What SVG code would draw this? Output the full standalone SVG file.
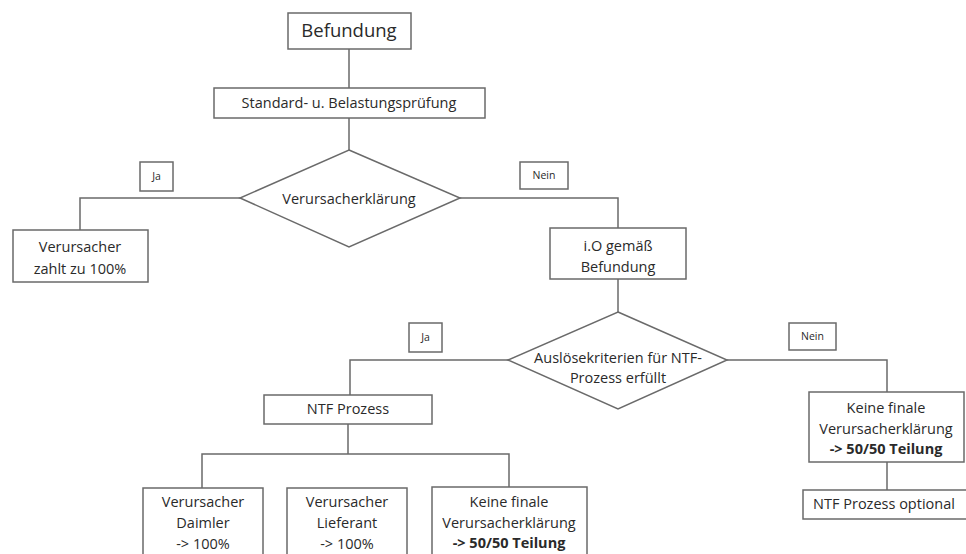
<svg xmlns="http://www.w3.org/2000/svg" width="966" height="554" viewBox="0 0 966 554">
<style>
.b{fill:#fff;stroke:#6a6a6a;stroke-width:1.5}
.c{fill:none;stroke:#6a6a6a;stroke-width:1.5}
text{font-family:"Open Sans","Liberation Sans",sans-serif;fill:#2a2a2a;text-anchor:middle;font-size:14.5px}
.s{font-size:10.5px}
.k{font-weight:bold}
</style>
<rect width="966" height="554" fill="#fff"/>
<g id="connectors">
<path class="c" d="M349,49V88M349,118V150"/>
<path class="c" d="M240,198H80V230"/>
<path class="c" d="M460,198H618V228"/>
<path class="c" d="M618,279V312"/>
<path class="c" d="M508,360H350V395"/>
<path class="c" d="M727,360H887V392"/>
<path class="c" d="M887,462V490"/>
<path class="c" d="M348,424V454M202,488V454H509V488"/>
</g>
<g id="befundung"><rect class="b" x="288" y="13" width="123" height="36"/><text x="349" y="37" style="font-size:18.5px">Befundung</text></g>
<g id="standard"><rect class="b" x="214" y="88" width="271" height="30"/><text x="349" y="108" style="font-size:14.5px">Standard- u. Belastungsprüfung</text></g>
<g id="verursacherklaerung"><polygon class="b" points="349,150 460,198 349,247 240,198"/><text x="349" y="204">Verursacherklärung</text></g>
<g id="label-ja1"><rect class="b" x="140" y="162" width="33" height="29"/><text class="s" x="156.5" y="180">Ja</text></g>
<g id="label-nein1"><rect class="b" x="520" y="162" width="48" height="27"/><text class="s" x="544" y="179">Nein</text></g>
<g id="zahlt"><rect class="b" x="13" y="230" width="135" height="52"/><text x="80" y="252">Verursacher</text><text x="80" y="274">zahlt zu 100%</text></g>
<g id="io"><rect class="b" x="550" y="228" width="136" height="51"/><text x="618" y="251">i.O gemäß</text><text x="618" y="272">Befundung</text></g>
<g id="ausloese"><polygon class="b" points="618,312 727,360 618,409 508,360"/><text x="618" y="363">Auslösekriterien für NTF-</text><text x="618" y="383">Prozess erfüllt</text></g>
<g id="label-ja2"><rect class="b" x="409" y="323" width="33" height="29"/><text class="s" x="425.5" y="341">Ja</text></g>
<g id="label-nein2"><rect class="b" x="789" y="323" width="47" height="27"/><text class="s" x="812.5" y="340">Nein</text></g>
<g id="ntf"><rect class="b" x="264" y="395" width="168" height="29"/><text x="348" y="414">NTF Prozess</text></g>
<g id="keine-rechts"><rect class="b" x="809" y="392" width="155" height="70"/><text x="886" y="413">Keine finale</text><text x="886" y="434">Verursacherklärung</text><text class="k" x="886" y="454">-&gt; 50/50 Teilung</text></g>
<g id="ntf-optional"><rect class="b" x="803" y="490" width="170" height="29"/><text x="884" y="509">NTF Prozess optional</text></g>
<g id="daimler"><rect class="b" x="143" y="488" width="120" height="80"/><text x="203" y="507">Verursacher</text><text x="203" y="528">Daimler</text><text x="203" y="549">-&gt; 100%</text></g>
<g id="lieferant"><rect class="b" x="287" y="488" width="120" height="80"/><text x="347" y="507">Verursacher</text><text x="347" y="528">Lieferant</text><text x="347" y="549">-&gt; 100%</text></g>
<g id="keine-unten"><rect class="b" x="432" y="487" width="155" height="80"/><text x="509" y="507">Keine finale</text><text x="509" y="528">Verursacherklärung</text><text class="k" x="509" y="548">-&gt; 50/50 Teilung</text></g>
</svg>
